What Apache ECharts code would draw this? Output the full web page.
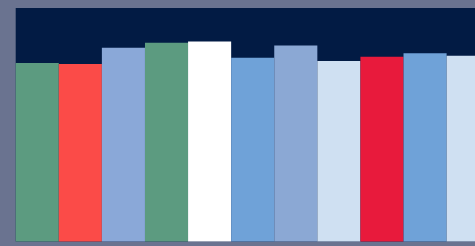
<!DOCTYPE html>
<html>
<head>
<meta charset="UTF-8">
<title>bars</title>
<script src="https://cdn.jsdelivr.net/npm/echarts@6/dist/echarts.min.js"></script>
<style>
  html, body { margin: 0; padding: 0; background: #6a7390; }
  #main { width: 475px; height: 246px; }
</style>
</head>
<body>
<div id="main"></div>
<script>
// data (axis 0..100, no labels shown)
var categories = ['A', 'B', 'C', 'D', 'E', 'F', 'G', 'H', 'I', 'J', 'K'];
var values = [76.4, 76.0, 83.0, 85.1, 85.6, 78.7, 83.9, 77.3, 79.1, 80.6, 79.6];
var colors = ['#5c9b80', '#fb4b48', '#8aa8d8', '#5c9b80', '#ffffff', '#6fa2d8',
              '#8ba8d4', '#cfe0f2', '#e81a3c', '#6fa2d8', '#cfe0f2'];

var myChart = echarts.init(document.getElementById('main'));
var option = {
  backgroundColor: '#6a7390',
  animation: false,
  grid: {
    left: 15.7, top: 8, right: -14.7, bottom: 4.5,
    outerBoundsMode: 'none',
    show: true,
    backgroundColor: '#021b44',
    borderWidth: 0
  },
  xAxis: {
    type: 'category',
    data: categories,
    show: false
  },
  yAxis: {
    type: 'value',
    min: 0,
    max: 100,
    show: false
  },
  series: [{
    type: 'bar',
    barCategoryGap: '0%',
    data: values.map(function (v, i) {
      return { value: v, itemStyle: { color: colors[i] } };
    })
  }]
};
myChart.setOption(option);
</script>
</body>
</html>
